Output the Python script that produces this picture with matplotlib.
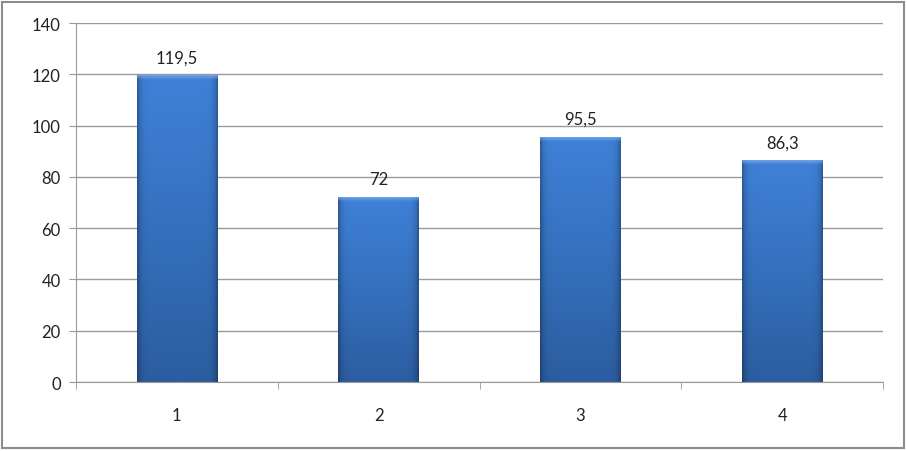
import numpy as np
import matplotlib.pyplot as plt
from matplotlib.patches import Rectangle
from matplotlib.colors import LinearSegmentedColormap

categories = ["1", "2", "3", "4"]
values = [119.5, 72, 95.5, 86.3]
labels = ["119,5", "72", "95,5", "86,3"]

plt.rcParams['font.family'] = ['Lato', 'DejaVu Sans']

fig = plt.figure(figsize=(9.07, 4.52), dpi=100)
ax = fig.add_axes([76 / 907, 1 - 383 / 452, (883 - 76) / 907, (383 - 24) / 452])

# рамка вокруг всей диаграммы
fig.patches.append(Rectangle((2 / 907, 3 / 452), 902 / 907, 446 / 452, transform=fig.transFigure,
                             fill=False, edgecolor='#8c8c8c', linewidth=1.5))

ax.set_xlim(0, 4)
ax.set_ylim(0, 140)
ax.set_yticks(range(0, 141, 20))
ax.set_xticks([0.5, 1.5, 2.5, 3.5])
ax.set_xticklabels(categories)
ax.set_xticks([0, 1, 2, 3, 4], minor=True)
ax.tick_params(axis='x', which='major', length=0, pad=18, labelsize=12, colors='#222222')
ax.tick_params(axis='x', which='minor', length=5, color='#999999', direction='out')
ax.tick_params(axis='y', length=5, color='#999999', labelsize=12, pad=6, colors='#222222')
ax.tick_params(axis='y', color='#999999')
ax.grid(axis='y', color='#9a9a9a', linewidth=1)
ax.set_axisbelow(True)
for s in ['top', 'right']:
    ax.spines[s].set_visible(False)
for s in ['left', 'bottom']:
    ax.spines[s].set_color('#999999')

# градиент для столбиков
cmap = LinearSegmentedColormap.from_list('bar', ['#2c5da0', '#3570bd', '#3f81d8'])
edge = np.linspace(-1, 1, 80)
shade = 1 - 0.3 * np.abs(edge) ** 12
width = 0.4
for i, v in enumerate(values):
    x0 = i + 0.5 - width / 2
    n = 300
    vert = np.linspace(0, 1, n)[:, None]
    rgba = cmap(vert)[:, :, :3] * shade[None, :, None]
    # светлая фаска сверху (~4 px)
    top = np.linspace(0, v, n)
    cap = np.clip((top - (v - 1.6)) / 1.6, 0, 1)[:, None, None]
    rgba = rgba * (1 - 0.6 * cap) + np.array([0.55, 0.72, 0.95])[None, None, :] * 0.6 * cap
    ax.imshow(rgba, extent=[x0, x0 + width, 0, v], origin='lower', aspect='auto', zorder=2,
              interpolation='bilinear')
    ax.text(i + 0.5, v + 4, labels[i], ha='center', va='bottom', fontsize=12, color='#222222')

ax.set_xlim(0, 4)
ax.set_ylim(0, 140)

fig.savefig('out.png', dpi=100)
